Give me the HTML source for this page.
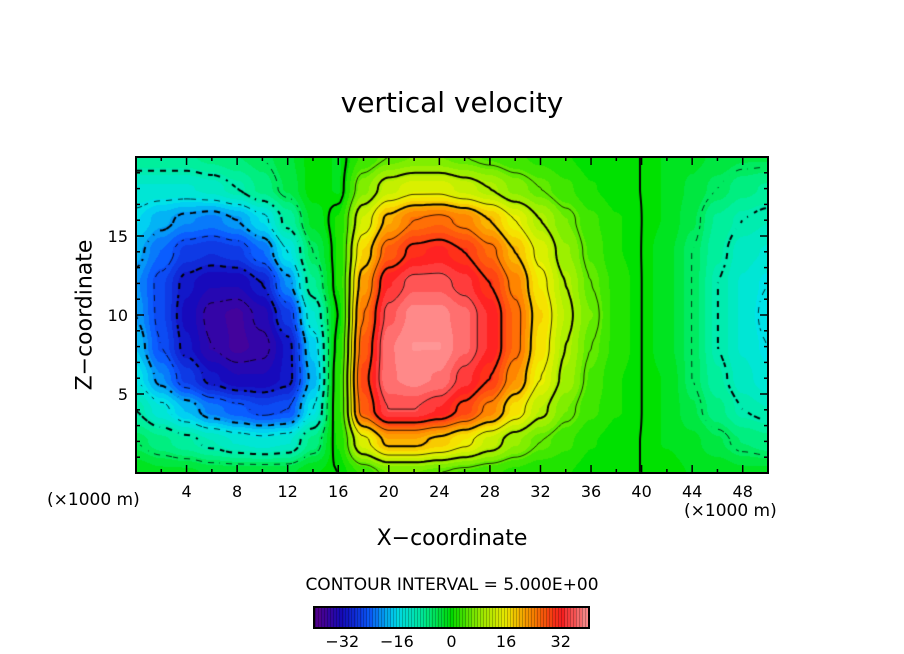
<!DOCTYPE html>
<html><head><meta charset="utf-8"><style>
body{margin:0;background:#fff;width:904px;height:654px;overflow:hidden;font-family:"DejaVu Sans","Liberation Sans",sans-serif}
.t{position:absolute;white-space:nowrap;color:#000}
</style></head><body>
<div style="position:relative;width:904px;height:654px">
<div class="t" style="left:0;width:904px;text-align:center;top:86px;font-size:28px">vertical velocity</div>
<canvas id="cv" width="632" height="316" style="position:absolute;left:136px;top:157px"></canvas>
<svg id="ov" width="904" height="654" style="position:absolute;left:0;top:0"></svg>
<div class="t" style="left:85px;top:315px;font-size:22px;transform:translate(-50%,-50%) rotate(-90deg)">Z−coordinate</div>
<div class="t" style="left:0;width:904px;text-align:center;top:526px;font-size:22px">X−coordinate</div>
<div class="t" style="left:47px;top:490px;font-size:17px">(×1000 m)</div>
<div class="t" style="left:684px;top:501px;font-size:17px">(×1000 m)</div>
<div class="t" style="left:0;width:904px;text-align:center;top:575px;font-size:17px">CONTOUR INTERVAL = 5.000E+00</div>
<canvas id="cb" width="273" height="19" style="position:absolute;left:315px;top:608px;outline:2px solid #000"></canvas>
</div>
<script>
const xs=[0,2,4,6,8,10,12,14,16,18,20,22,24,26,28,30,32,34,36,38,40,42,44,46,48,50];
const zs=[0,2,4,6,8,10,12,14,16,18,20];
const w0=[-1,-2,-2,-3,-3,-3,-3,-1,0,3,6,6,5,4,3,2,1,1,0,0,0,0,-1,-1,-2,-2];
const w2=[-5,-7,-9,-11,-13,-14,-13,-7,1,14,21,21,19,16,12,8,5,3,1,0,0,-1,-2,-4,-6,-7];
const w4=[-10,-14,-18,-22,-24,-26,-25,-15,2,27,35,35,33,29,24,17,11,6,3,1,0,-1,-4,-7,-10,-11];
const w6=[-15,-21,-27,-31,-33,-33,-31,-19,2,29,38,39,38,34,30,23,15,9,4,1,0,-1,-5,-9,-12,-14];
const w8=[-18,-25,-31,-35,-37,-36,-31,-17,1,27,38,40,40,37,33,26,17,10,5,2,0,-2,-5,-10,-13,-15];
const w10=[-20,-26,-32,-36,-37,-34,-27,-13,0,25,36,39,39,37,33,26,18,11,6,2,0,-2,-5,-10,-13,-16];
const w12=[-21,-26,-31,-33,-33,-30,-21,-8,1,22,33,36,36,34,30,24,16,10,5,2,0,-2,-5,-10,-13,-15];
const w14=[-19,-23,-27,-28,-27,-23,-15,-5,1,18,27,31,32,30,26,20,14,8,4,1,0,-2,-5,-9,-12,-13];
const w16=[-16,-19,-21,-22,-20,-16,-9,-2,1,13,21,25,26,24,20,15,10,6,3,1,0,-1,-4,-8,-10,-11];
const w18=[-13,-13,-13,-12,-10,-7,-4,0,-1,7,12,14,14,12,10,7,5,3,1,0,0,-1,-3,-5,-7,-8];
const w20=[-8,-8,-8,-7,-6,-5,-3,0,-1,3,5,6,6,5,4,3,2,1,0,0,0,-1,-2,-3,-4,-4];
const grid=[w0,w2,w4,w6,w8,w10,w12,w14,w16,w18,w20];
const xTicks=[4,8,12,16,20,24,28,32,36,40,44,48];
const zTicks=[5,10,15];
const cbTicks=[-32,-16,0,16,32];
const X0=136,X1=768,Y0=473,Y1=157;
const sx=v=>X0+(v-0)/50*(X1-X0), sz=v=>Y0-(v-0)/20*(Y0-Y1);
const stops=[[-40,[90,0,140]],[-32,[20,10,190]],[-24,[10,90,255]],[-16,[0,225,240]],[-8,[0,240,150]],[0,[0,225,0]],[8,[150,240,0]],[16,[245,240,0]],[24,[255,130,0]],[32,[255,30,30]],[40,[255,150,150]]];
function col(v){v=Math.round(v/1.7)*1.7;v=Math.max(-40,Math.min(40,v));
 for(let i=0;i<stops.length-1;i++){const a=stops[i],b=stops[i+1];if(v<=b[0]){const t=(v-a[0])/(b[0]-a[0]);return a[1].map((c,k)=>Math.round(c+(b[1][k]-c)*t));}}return stops[stops.length-1][1];}
function h(t){return t*t*(3-2*t);}
function val(x,z){let i=Math.min(xs.length-2,Math.floor(x/2)),j=Math.min(zs.length-2,Math.floor(z/2));
 const tx=h((x-xs[i])/2),tz=h((z-zs[j])/2);const a=grid[j][i],b=grid[j][i+1],c=grid[j+1][i],d=grid[j+1][i+1];
 return a*(1-tx)*(1-tz)+b*tx*(1-tz)+c*(1-tx)*tz+d*tx*tz;}
const W=632,H=316,cv=document.getElementById('cv'),ctx=cv.getContext('2d'),img=ctx.createImageData(W,H);
for(let py=0;py<H;py++)for(let px=0;px<W;px++){const x=(px+0.5)/W*50,z=(H-py-0.5)/H*20;const c=col(val(x,z));const o=(py*W+px)*4;img.data[o]=c[0];img.data[o+1]=c[1];img.data[o+2]=c[2];img.data[o+3]=255;}
ctx.putImageData(img,0,0);
const S=3,nx=Math.floor(W/S),ny=Math.floor(H/S);
const F=[];for(let j=0;j<=ny;j++){F.push([]);for(let i=0;i<=nx;i++)F[j].push(val(i*S/W*50,(H-j*S)/H*20));}
for(let L=-35;L<=35;L+=5){
 ctx.beginPath();
 for(let j=0;j<ny;j++)for(let i=0;i<nx;i++){
  const a=F[j][i],b=F[j][i+1],c=F[j+1][i+1],d=F[j+1][i];const pts=[];
  const e=(p,q,x1,y1,x2,y2)=>{if((p<L)!=(q<L)){const t=(L-p)/(q-p);pts.push([x1+(x2-x1)*t,y1+(y2-y1)*t]);}};
  e(a,b,i,j,i+1,j);e(b,c,i+1,j,i+1,j+1);e(c,d,i+1,j+1,i,j+1);e(d,a,i,j+1,i,j);
  if(L<0&&((Math.floor(i/2)+Math.floor(j/2))%2==1))continue;
  for(let k=0;k+1<pts.length;k+=2){ctx.moveTo(pts[k][0]*S,pts[k][1]*S);ctx.lineTo(pts[k+1][0]*S,pts[k+1][1]*S);}
 }
 ctx.strokeStyle='#000';ctx.lineWidth=(L%10==0)?2:0.8;ctx.stroke();
}
const cb=document.getElementById('cb'),c2=cb.getContext('2d');
for(let px=0;px<273;px++){const v=-40+(px+0.5)/273*80;const c=col(v);c2.fillStyle=`rgb(${c})`;c2.fillRect(px,0,1,19);if(px%3==0){c2.fillStyle='rgba(0,0,0,0.35)';c2.fillRect(px,0,1,19);}}
const ov=document.getElementById('ov'),NS='http://www.w3.org/2000/svg';
function el(t,a){const e=document.createElementNS(NS,t);for(const k in a)e.setAttribute(k,a[k]);ov.appendChild(e);return e;}
const fr=el('rect',{x:X0,y:Y1,width:X1-X0,height:Y0-Y1,fill:'none',stroke:'#000','stroke-width':2});


for(let v=2;v<50;v+=2){const L=v%4==0?8:4;
 const t1=el('line',{x1:sx(v),x2:sx(v),y1:Y0,y2:Y0-L,stroke:'#000','stroke-width':1.5});
 
 
 const t2=el('line',{x1:sx(v),x2:sx(v),y1:Y1,y2:Y1+L,stroke:'#000','stroke-width':1.5});
 
 }
for(let v=1;v<20;v++){const L=v%5==0?8:4;
 const t1=el('line',{x1:X0,x2:X0+L,y1:sz(v),y2:sz(v),stroke:'#000','stroke-width':1.5});
 
 
 const t2=el('line',{x1:X1,x2:X1-L,y1:sz(v),y2:sz(v),stroke:'#000','stroke-width':1.5});
 
 }
xTicks.forEach(v=>{const t=el('text',{x:sx(v),y:497,'text-anchor':'middle','font-size':16,'font-family':'DejaVu Sans,sans-serif'});t.textContent=v;
 
 });
zTicks.forEach(v=>{const t=el('text',{x:128,y:sz(v)+6,'text-anchor':'end','font-size':16,'font-family':'DejaVu Sans,sans-serif'});t.textContent=v;
 
 });
cbTicks.forEach(v=>{const t=el('text',{x:315+(v+40)/80*273,y:647,'text-anchor':'middle','font-size':16,'font-family':'DejaVu Sans,sans-serif'});t.textContent=v<0?'−'+(-v):v;
 
 });
</script>
</body></html>
